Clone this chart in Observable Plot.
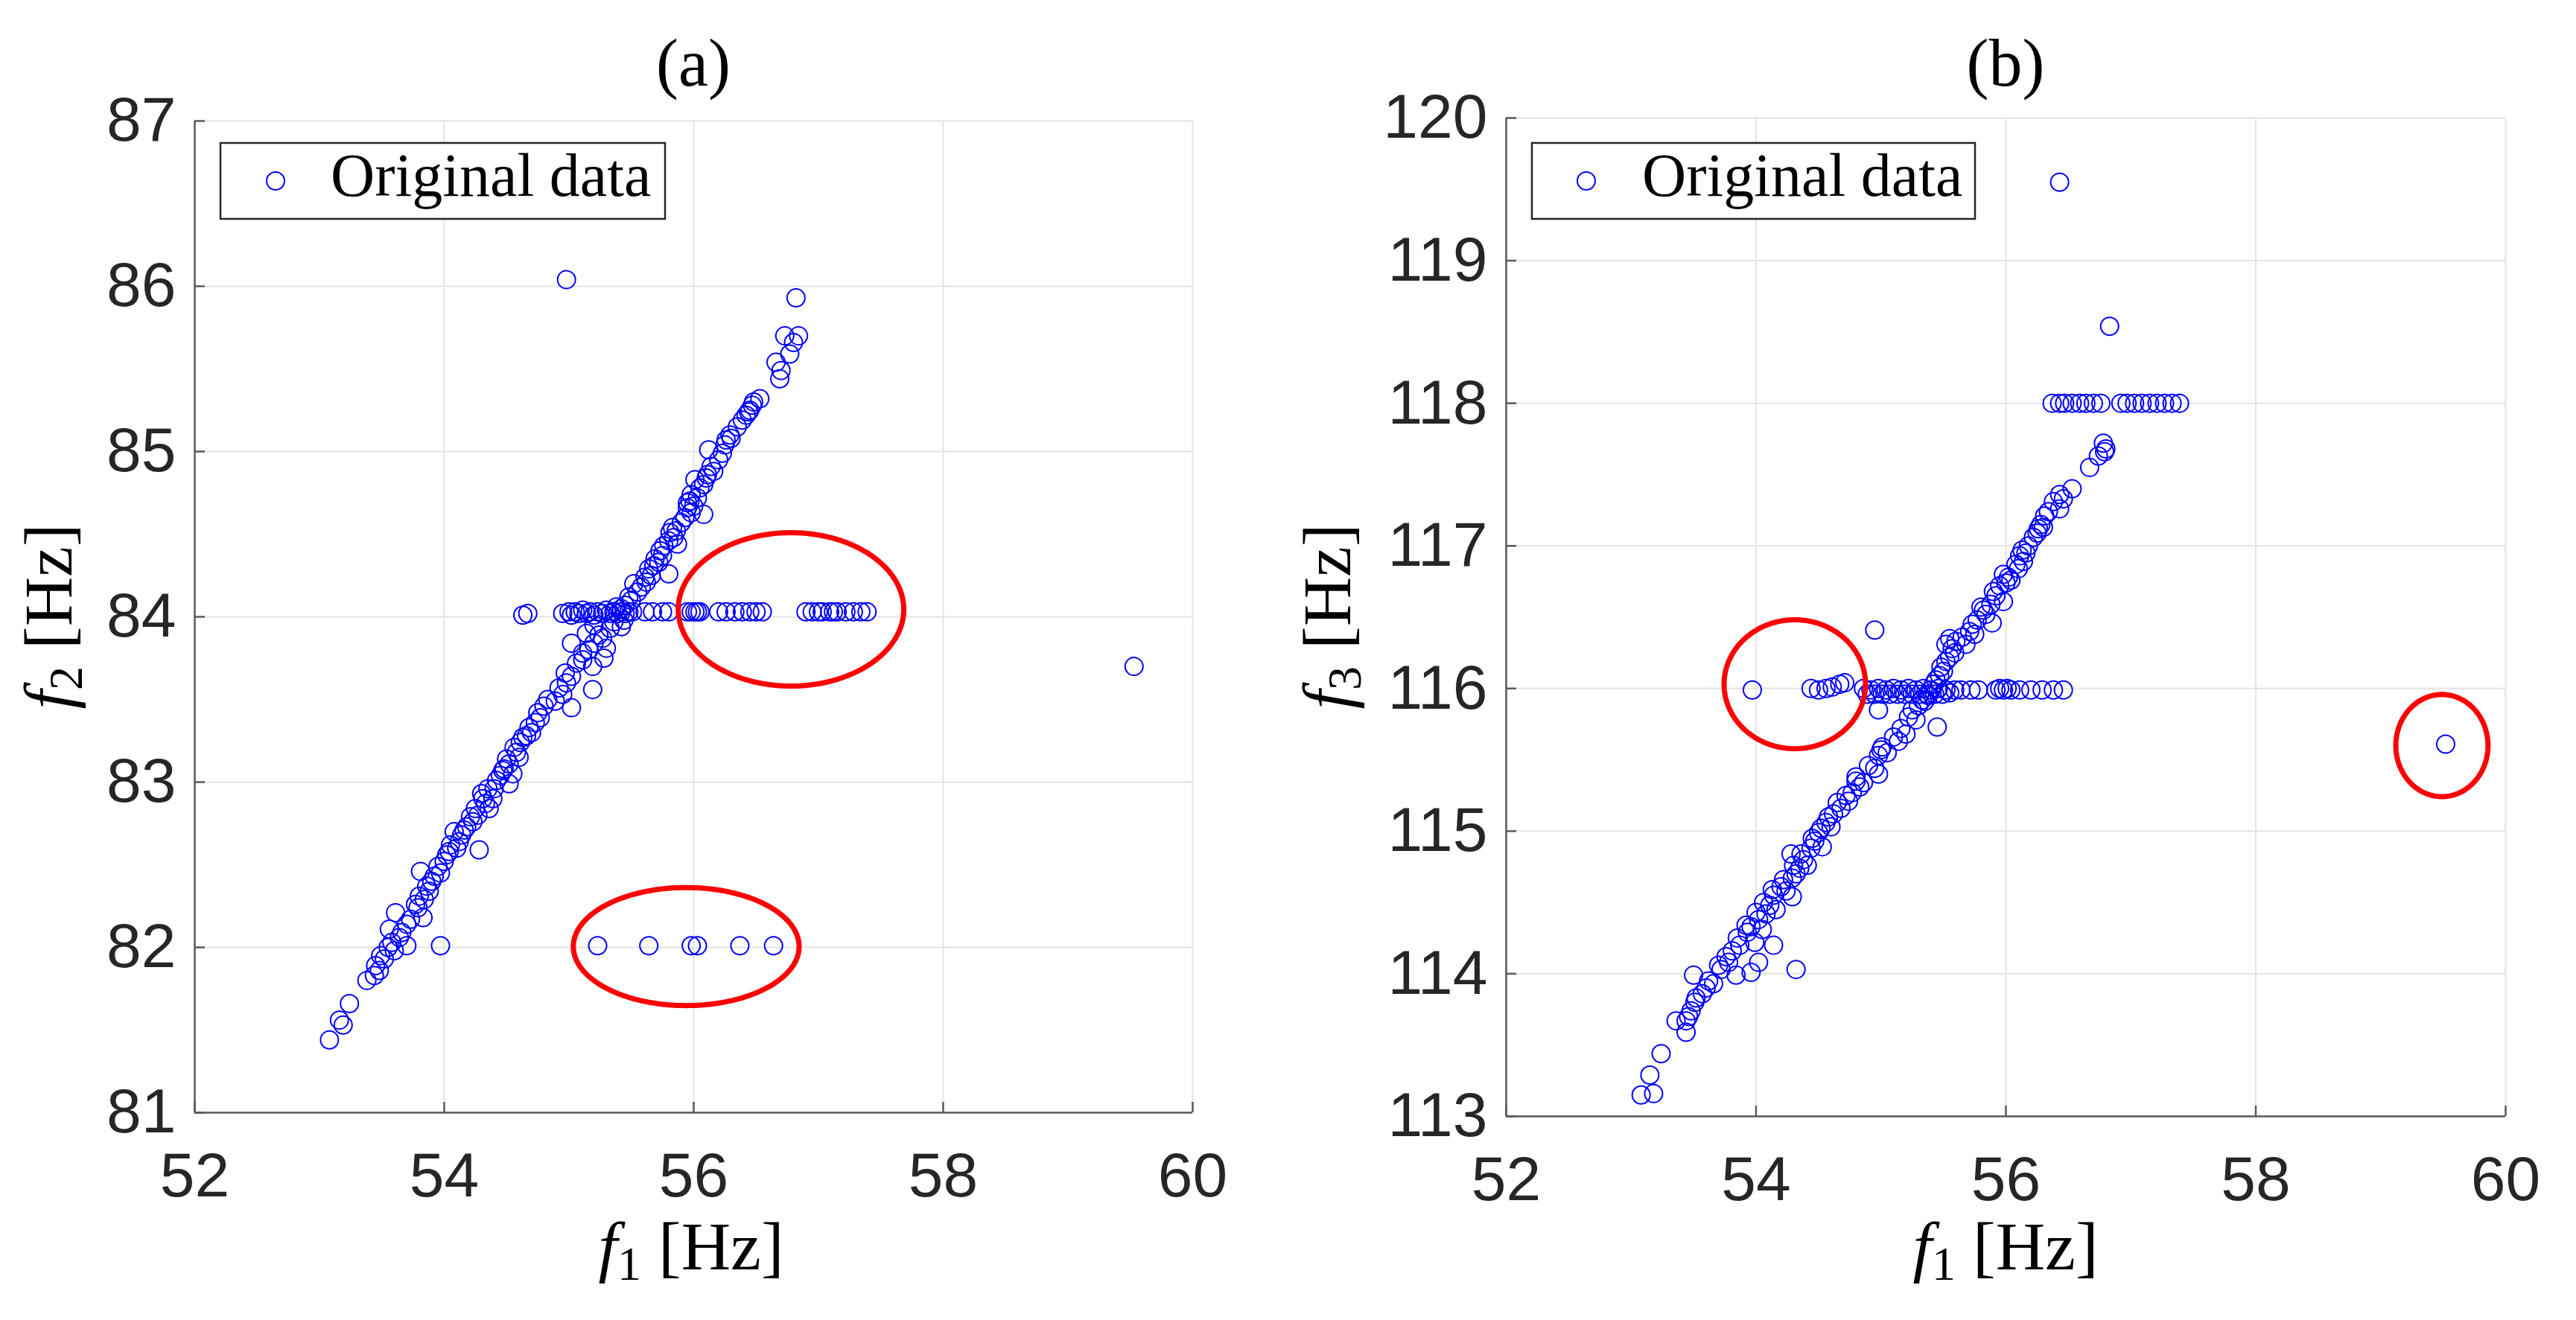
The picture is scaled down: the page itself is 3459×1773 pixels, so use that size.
<!DOCTYPE html>
<html>
<head>
<meta charset="utf-8">
<script src="https://cdn.jsdelivr.net/npm/d3@7"></script>
<script src="https://cdn.jsdelivr.net/npm/@observablehq/plot@0.6"></script>
<style>
  html, body { margin: 0; padding: 0; background: #fff; }
  #root { position: relative; width: 3459px; height: 1773px; overflow: hidden; background: #fff; }
  .panel { position: absolute; top: 0; }
  #overlay { position: absolute; left: 0; top: 0; pointer-events: none; }
</style>
</head>
<body>
<div id="root">
  <div id="panelA" class="panel" style="left:0px"></div>
  <div id="panelB" class="panel" style="left:1700px"></div>
</div>
<script>
// ---------------- DATA ----------------
const xTicks = [52, 54, 56, 58, 60];
const yTicksA = [81, 82, 83, 84, 85, 86, 87];
const yTicksB = [113, 114, 115, 116, 117, 118, 119, 120];
const titles = ["(a)", "(b)"];
const legendLabel = "Original data";

// Panel (a): f1 vs f2
const diagA = [
  [56.82,85.93],[56.73,85.70],[56.84,85.70],[56.80,85.66],[56.77,85.59],[56.66,85.54],[56.70,85.49],[56.69,85.44],
  [56.53,85.32],[56.47,85.28],[56.45,85.25],[56.42,85.22],[56.44,85.24],[56.39,85.19],[56.29,85.10],[56.30,85.08],
  [56.26,85.07],[56.25,85.04],[56.12,85.01],[56.23,84.99],[56.14,84.91],[56.16,84.88],[56.11,84.86],[56.01,84.83],
  [56.08,84.80],[56.05,84.78],[55.98,84.74],[55.97,84.70],[55.95,84.69],[56.00,84.67],[55.95,84.66],[55.98,84.63],
  [56.08,84.62],[55.93,84.60],[55.83,84.54],[55.86,84.52],[55.81,84.51],[55.80,84.46],[55.87,84.44],[55.76,84.43],
  [55.73,84.40],[55.69,84.35],[55.72,84.33],[55.64,84.29],[55.80,84.26],[55.66,84.25],[55.61,84.24],[55.52,84.20],
  [55.58,84.18],[55.55,84.15],[55.48,84.12],[55.50,84.10],[55.45,84.07],[55.42,84.05],[55.38,84.06],
  [55.44,83.98],[55.42,83.94],[55.33,83.93],[55.20,83.95],[55.14,83.90],[55.27,83.87],[55.20,83.84],[55.02,83.84],
  [55.30,83.81],[55.11,83.78],[55.28,83.75],[55.11,83.74],[55.19,83.70],[55.02,83.64],[54.98,83.60],[55.19,83.56],
  [54.95,83.53],[54.89,83.49],[54.80,83.46],[55.02,83.45],[54.77,83.39],[54.73,83.36],[54.70,83.30],[54.66,83.28],
  [54.61,83.24],[54.58,83.18],[54.60,83.15],[54.52,83.11],[54.48,83.08],[54.55,83.05],[54.45,83.04],[54.52,82.99],
  [54.40,82.96],[54.30,82.93],[54.39,82.90],[54.33,82.87],[54.36,82.84],[54.27,82.80],[54.23,82.76],[54.18,82.73],
  [54.08,82.70],[54.14,82.68],[54.28,82.59],[54.05,82.62],[54.10,82.60],[54.02,82.56],[53.95,82.49],[53.81,82.46],
  [53.92,82.43],[53.86,82.37],[53.88,82.34],[53.80,82.31],[53.77,82.26],[53.61,82.21],[53.83,82.18],[53.70,82.14],
  [53.56,82.11],[53.64,82.06],[53.70,82.01],[53.55,82.00],[53.60,81.98],[53.49,81.95],[53.45,81.89],[53.48,81.86],
  [53.44,81.83],[53.38,81.80],[53.24,81.66],[53.16,81.56],[53.19,81.53],[53.08,81.44],
  [53.52,81.93],[53.58,82.03],[53.66,82.09],[53.73,82.17],[53.79,82.24],[53.84,82.29],[53.90,82.40],[53.97,82.45],
  [54.00,82.52],[54.04,82.58],[54.12,82.64],[54.16,82.71],[54.21,82.79],[54.25,82.84],[54.31,82.90],[54.35,82.96],
  [54.42,83.01],[54.47,83.07],[54.50,83.14],[54.56,83.21],[54.63,83.27],[54.68,83.33],[54.75,83.42],[54.83,83.50],
  [54.92,83.57],[54.97,83.66],[55.06,83.72],[55.16,83.80],[55.24,83.89],[55.36,83.97],[55.62,84.21],[55.68,84.31],
  [55.75,84.37],[55.84,84.48],[55.90,84.57],[56.03,84.72],[56.10,84.84],[56.20,84.95],[56.35,85.15],[56.48,85.30]
];
const rowA84 = [
  [54.63,84.01],[54.67,84.02],[54.95,84.02],[55.00,84.03],[55.02,84.01],[55.05,84.03],[55.08,84.02],[55.11,84.04],
  [55.14,84.02],[55.17,84.03],[55.20,84.01],[55.23,84.03],[55.27,84.02],[55.30,84.04],[55.33,84.02],[55.36,84.03],
  [55.39,84.02],[55.42,84.03],[55.45,84.02],[55.48,84.03],[55.51,84.03],[55.61,84.03],[55.67,84.03],[55.75,84.03],
  [55.80,84.03],[55.95,84.03],[55.98,84.03],[56.01,84.03],[56.03,84.03],[56.05,84.03],[56.20,84.03],[56.26,84.03],
  [56.33,84.03],[56.39,84.03],[56.45,84.03],[56.50,84.03],[56.55,84.03],[56.90,84.03],[56.95,84.03],[57.00,84.03],
  [57.03,84.03],[57.09,84.03],[57.12,84.03],[57.15,84.03],[57.22,84.03],[57.28,84.03],[57.34,84.03],[57.39,84.03]
];
const rowA82 = [[53.97,82.01],[55.23,82.01],[55.64,82.01],[55.98,82.01],[56.03,82.01],[56.37,82.01],[56.64,82.01]];
const outliersA = [[54.98,86.04],[59.53,83.70]];

// Panel (b): f1 vs f3
const diagB = [
  [56.78,117.72],[56.80,117.68],[56.79,117.66],[56.74,117.63],[56.67,117.55],[56.53,117.40],[56.43,117.36],[56.46,117.33],
  [56.38,117.31],[56.43,117.26],[56.31,117.21],[56.28,117.15],[56.30,117.13],[56.26,117.12],[56.22,117.06],[56.13,116.97],
  [56.16,116.95],[56.11,116.93],[56.14,116.89],[56.10,116.84],[55.98,116.80],[56.04,116.76],[56.00,116.74],[55.95,116.72],
  [55.92,116.65],[55.98,116.61],[55.88,116.59],[55.80,116.57],[55.84,116.52],[55.77,116.48],[55.89,116.46],[55.71,116.40],
  [55.75,116.38],[55.55,116.35],[55.60,116.33],[55.52,116.31],[55.68,116.31],[55.59,116.25],[55.55,116.22],[55.52,116.19],
  [55.50,116.12],[55.47,116.09],[55.44,116.06],[55.38,115.95],[55.35,115.91],[55.30,115.88],[55.25,115.85],[54.98,115.85],
  [55.28,115.78],[55.45,115.73],[55.16,115.72],[55.20,115.68],[55.14,115.63],[55.01,115.59],[55.05,115.55],[54.98,115.53],
  [54.95,115.44],[54.98,115.40],[54.80,115.38],[54.86,115.34],[54.83,115.31],[54.77,115.27],[54.74,115.21],[54.68,115.16],
  [54.62,115.12],[54.56,115.06],[54.60,115.03],[54.50,114.99],[54.47,114.93],[54.53,114.89],[54.44,114.88],[54.28,114.84],
  [54.38,114.80],[54.41,114.76],[54.35,114.74],[54.29,114.67],[54.32,114.70],[54.20,114.61],[54.24,114.58],[54.14,114.55],
  [54.29,114.54],[54.11,114.48],[54.16,114.45],[54.08,114.42],[54.02,114.38],[53.96,114.33],[54.05,114.31],[53.93,114.29],
  [54.14,114.20],[53.87,114.20],[53.99,114.22],[53.81,114.16],[54.02,114.08],[53.78,114.08],[53.96,114.01],[53.72,114.03],
  [53.84,113.99],[53.50,113.99],[53.66,113.93],[53.60,113.90],[53.57,113.86],[53.51,113.80],[53.48,113.74],[53.44,113.67],
  [53.36,113.67],[53.44,113.59],[53.24,113.44],[53.15,113.29],[53.18,113.16],[53.08,113.15],
  [53.46,113.70],[53.52,113.83],[53.62,113.95],[53.70,114.06],[53.76,114.12],[53.85,114.25],[53.92,114.34],[54.00,114.43],
  [54.06,114.50],[54.13,114.59],[54.22,114.66],[54.30,114.76],[54.36,114.84],[54.45,114.95],[54.52,115.02],[54.58,115.10],
  [54.65,115.20],[54.72,115.25],[54.80,115.35],[54.90,115.46],[55.00,115.57],[55.10,115.66],[55.22,115.80],[55.33,115.92],
  [55.42,116.03],[55.48,116.15],[55.57,116.28],[55.65,116.36],[55.73,116.45],[55.82,116.55],[55.90,116.68],[56.02,116.78],
  [56.08,116.87],[56.18,117.00],[56.25,117.09],[56.34,117.24]
];
const rowB116 = [
  [53.97,115.99],[54.44,116.00],[54.50,115.99],[54.56,116.00],[54.61,116.01],[54.67,116.03],[54.71,116.04],[54.86,116.00],
  [54.89,115.96],[54.92,115.99],[54.95,115.96],[54.98,116.00],[55.01,115.96],[55.04,115.99],[55.07,115.96],[55.10,116.00],
  [55.13,115.96],[55.16,115.99],[55.19,115.96],[55.22,116.00],[55.25,115.96],[55.28,115.99],[55.31,115.96],[55.34,116.00],
  [55.37,115.96],[55.40,115.99],[55.43,115.96],[55.46,116.00],[55.49,115.96],[55.52,115.99],[55.55,115.97],[55.59,115.99],
  [55.64,115.99],[55.72,115.99],[55.78,115.99],[55.92,115.99],[55.95,116.00],[55.98,115.99],[56.01,116.00],[56.04,115.99],
  [56.11,115.99],[56.20,115.99],[56.29,115.99],[56.38,115.99],[56.46,115.99]
];
const rowB118 = [
  [56.37,118.0],[56.43,118.0],[56.47,118.0],[56.53,118.0],[56.59,118.0],[56.64,118.0],[56.70,118.0],[56.76,118.0],
  [56.92,118.0],[56.97,118.0],[57.03,118.0],[57.09,118.0],[57.15,118.0],[57.21,118.0],[57.27,118.0],[57.33,118.0],[57.39,118.0]
];
const outliersB = [[56.43,119.55],[56.83,118.54],[54.95,116.41],[54.32,114.03],[59.52,115.61]];

// Red highlight ellipses (centre and half-axes in data units)
const ellipsesA = [
  {cx: 56.78, cy: 84.045, rx: 0.904, ry: 0.464},
  {cx: 55.94, cy: 82.005, rx: 0.905, ry: 0.357}
];
const ellipsesB = [
  {cx: 54.31, cy: 116.03, rx: 0.566, ry: 0.452},
  {cx: 59.49, cy: 115.60, rx: 0.369, ry: 0.358}
];

// ---------------- DRAW ----------------
const toPts = (...groups) => groups.flat().map(([x, y]) => ({x, y}));

function ellipsePath(ells) {
  return ells.flatMap((e, k) => d3.range(0, 241).map(i => {
    const t = (i / 240) * 2 * Math.PI;
    return {k, x: e.cx + e.rx * Math.cos(t), y: e.cy + e.ry * Math.sin(t)};
  }));
}

function panel({pts, yDomain, yTicks, ells, width, height, ml, mr, mt, mb}) {
  const innerW = width - ml - mr, innerH = height - mt - mb;
  const axisColor = "#5a5a5a";
  const fmt = d3.format("d");
  return Plot.plot({
    width, height,
    marginLeft: ml, marginRight: mr, marginTop: mt, marginBottom: mb,
    x: {domain: [xTicks[0], xTicks[xTicks.length - 1]]},
    y: {domain: yDomain},
    style: {fontFamily: "'Liberation Sans', Arial, Helvetica, sans-serif", fontSize: "84px", color: "#262626", background: "white", overflow: "visible"},
    marks: [
      Plot.gridX(xTicks, {stroke: "#e4e4e4", strokeOpacity: 1, strokeWidth: 2}),
      Plot.gridY(yTicks, {stroke: "#e4e4e4", strokeOpacity: 1, strokeWidth: 2}),
      Plot.ruleY([yDomain[0]], {stroke: axisColor, strokeWidth: 2.5}),
      Plot.ruleX([xTicks[0]], {stroke: axisColor, strokeWidth: 2.5}),
      Plot.tickX(xTicks, {x: d => d, insetTop: innerH - 14, stroke: axisColor, strokeWidth: 2.5}),
      Plot.tickY(yTicks, {y: d => d, insetRight: innerW - 14, stroke: axisColor, strokeWidth: 2.5}),
      Plot.axisX(xTicks, {tickSize: 0, tickPadding: 53, fontSize: 84, label: null, tickFormat: fmt}),
      Plot.axisY(yTicks, {tickSize: 0, tickPadding: 25, fontSize: 84, label: null, tickFormat: fmt}),
      Plot.dot(pts, {x: "x", y: "y", r: 12, stroke: "#0000ff", strokeWidth: 2, fill: "none"}),
      Plot.line(ellipsePath(ells), {x: "x", y: "y", z: "k", stroke: "#ff0000", strokeWidth: 7})
    ]
  });
}

document.getElementById("panelA").append(panel({
  pts: toPts(diagA, rowA84, rowA82, outliersA),
  yDomain: [yTicksA[0], yTicksA[yTicksA.length - 1]], yTicks: yTicksA, ells: ellipsesA,
  width: 1700, height: 1773, ml: 261, mr: 99, mt: 162, mb: 279
}));
document.getElementById("panelB").append(panel({
  pts: toPts(diagB, rowB116, rowB118, outliersB),
  yDomain: [yTicksB[0], yTicksB[yTicksB.length - 1]], yTicks: yTicksB, ells: ellipsesB,
  width: 1759, height: 1773, ml: 322, mr: 95, mt: 158, mb: 274
}));

// Overlay: titles, axis labels, legends
const NS = "http://www.w3.org/2000/svg";
const ov = document.createElementNS(NS, "svg");
ov.setAttribute("id", "overlay");
ov.setAttribute("width", 3459);
ov.setAttribute("height", 1773);
const serif = "'Liberation Serif', 'Times New Roman', 'DejaVu Serif', serif";
ov.innerHTML = `
  <g font-family="${serif}" fill="#000">
    <text x="931" y="115" font-size="90" text-anchor="middle">${titles[0]}</text>
    <text x="2693" y="115" font-size="90" text-anchor="middle">${titles[1]}</text>

    <text x="928" y="1705" font-size="92" text-anchor="middle"><tspan font-style="italic">f</tspan><tspan font-size="64" dy="14">1</tspan><tspan dy="-14"> [Hz]</tspan></text>
    <text x="2693" y="1705" font-size="92" text-anchor="middle"><tspan font-style="italic">f</tspan><tspan font-size="64" dy="14">1</tspan><tspan dy="-14"> [Hz]</tspan></text>

    <text transform="translate(96,828) rotate(-90)" font-size="92" text-anchor="middle"><tspan font-style="italic">f</tspan><tspan font-size="64" dy="14">2</tspan><tspan dy="-14"> [Hz]</tspan></text>
    <text transform="translate(1813,828) rotate(-90)" font-size="92" text-anchor="middle"><tspan font-style="italic">f</tspan><tspan font-size="64" dy="14">3</tspan><tspan dy="-14"> [Hz]</tspan></text>

    <rect x="296" y="192" width="597" height="102" fill="#fff" stroke="#262626" stroke-width="2.5"/>
    <circle cx="370" cy="243" r="12" fill="none" stroke="#0000ff" stroke-width="2"/>
    <text x="444" y="263" font-size="82">${legendLabel}</text>

    <rect x="2057" y="192" width="595" height="102" fill="#fff" stroke="#262626" stroke-width="2.5"/>
    <circle cx="2130" cy="243" r="12" fill="none" stroke="#0000ff" stroke-width="2"/>
    <text x="2205" y="263" font-size="82">${legendLabel}</text>
  </g>`;
document.getElementById("root").append(ov);
</script>
</body>
</html>
